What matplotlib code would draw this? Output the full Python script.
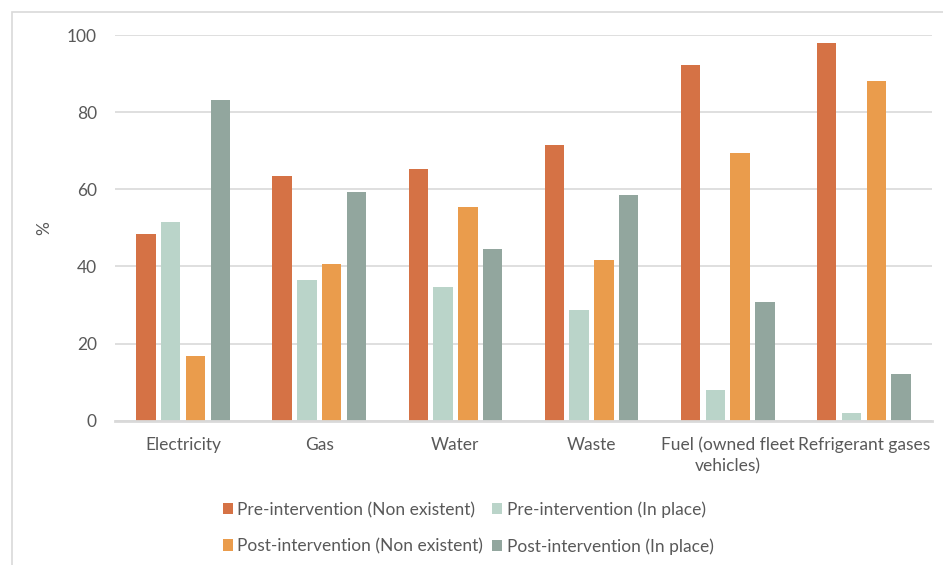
import numpy as np
import matplotlib.pyplot as plt
from matplotlib.patches import Rectangle

plt.rcParams['font.family'] = ['Lato', 'DejaVu Sans']

categories = ['Electricity', 'Gas', 'Water', 'Waste',
              'Fuel (owned fleet\nvehicles)', 'Refrigerant gases']
pre_non = [48.5, 63.4, 65.3, 71.4, 92.1, 98.0]
pre_in = [51.5, 36.6, 34.7, 28.6, 7.9, 2.0]
post_non = [16.8, 40.6, 55.4, 41.6, 69.3, 88.0]
post_in = [83.2, 59.4, 44.6, 58.4, 30.7, 12.0]

series = [
    ('Pre-intervention (Non existent)', pre_non, '#D57245'),
    ('Pre-intervention (In place)', pre_in, '#BAD4C9'),
    ('Post-intervention (Non existent)', post_non, '#EA9C4C'),
    ('Post-intervention (In place)', post_in, '#92A69E'),
]

txt = '#595959'
fs = 12.5
fig = plt.figure(figsize=(9.43, 5.65), dpi=100)
ax = fig.add_axes([115 / 943, 144.3 / 565, 817 / 943, 385.7 / 565])

x = np.arange(len(categories))
w = 0.143
step = 0.182
bars = []
for i, (name, vals, col) in enumerate(series):
    b = ax.bar(x + (i - 1.5) * step, vals, width=w, color=col, label=name, zorder=3)
    bars.append(b)

ax.set_xlim(-0.5, len(categories) - 0.5)
ax.set_ylim(0, 100)
ax.set_yticks(range(0, 101, 20))
ax.yaxis.grid(True, color='#D9D9D9', lw=1.2, zorder=0)
for s in ['top', 'right', 'left']:
    ax.spines[s].set_visible(False)
ax.spines['bottom'].set_color('#D9D9D9')
ax.spines['bottom'].set_linewidth(2)
ax.spines['bottom'].set_zorder(4)
ax.tick_params(axis='both', length=0, colors=txt, labelsize=fs)
ax.tick_params(axis='y', pad=13)
ax.tick_params(axis='x', pad=12)
ax.set_xticks(x)
ax.set_xticklabels(categories, linespacing=1.4)
ax.set_ylabel('%', color=txt, fontsize=fs)
ax.yaxis.set_label_coords(-63 / 817, 0.5)

# legend filled column-wise, so reorder for row layout
order = [0, 2, 1, 3]
leg = fig.legend([bars[k] for k in order], [series[k][0] for k in order],
                 ncol=2, loc='center', bbox_to_anchor=(468 / 943, 1 - 528 / 565),
                 frameon=False, fontsize=fs, handlelength=0.6, handleheight=0.6,
                 handletextpad=0.25, columnspacing=0.5, labelspacing=1.15)
for t in leg.get_texts():
    t.set_color(txt)

fig.add_artist(Rectangle((12 / 943, -0.1), 1.0, 1.1 - 12 / 565, transform=fig.transFigure,
                         fill=False, edgecolor='#D9D9D9', lw=1.2, clip_on=False))

fig.savefig('out.png', dpi=100)
